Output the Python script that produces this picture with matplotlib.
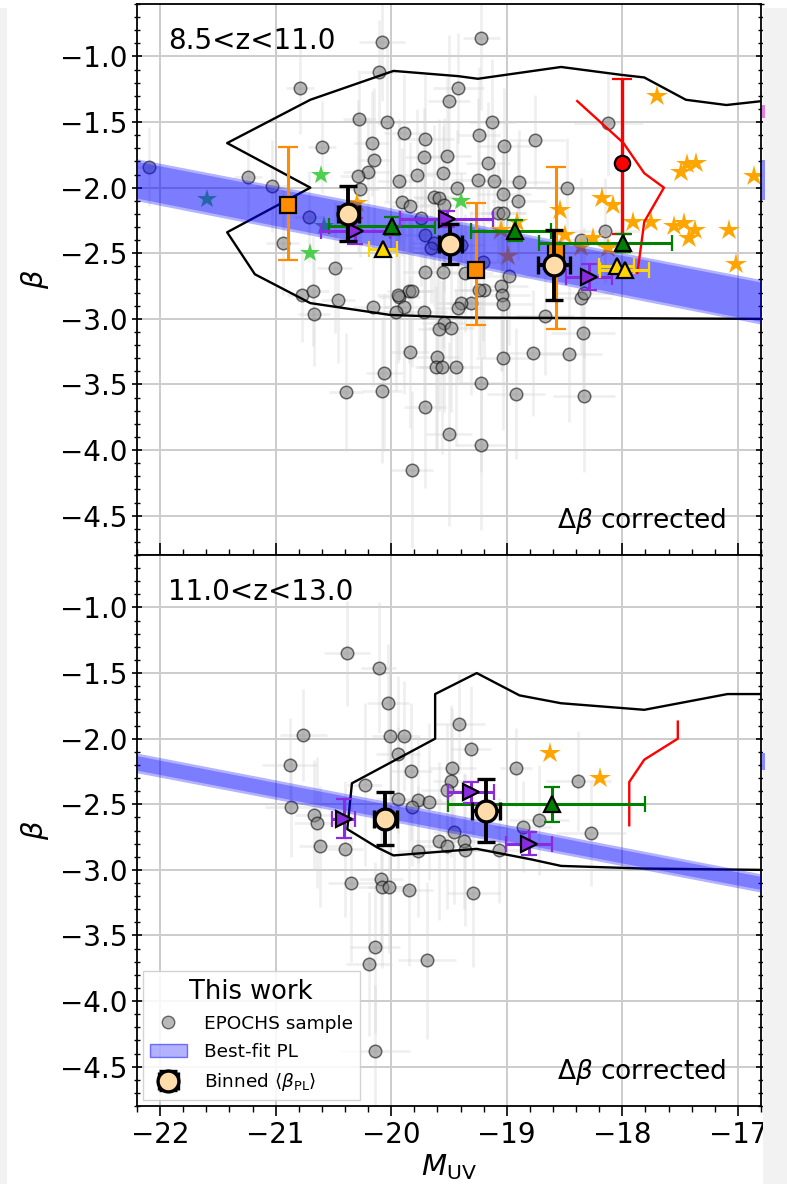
import matplotlib
matplotlib.use("Agg")
import matplotlib.pyplot as plt
from matplotlib.ticker import MultipleLocator
from matplotlib.patches import Patch, Rectangle
from matplotlib.lines import Line2D

plt.rcParams['font.family'] = ['DejaVu Sans']
plt.rcParams['mathtext.fontset'] = 'dejavusans'

# ---- data: 8.5 < z < 11.0 ----
m_top = [-20.08, -20.11, -20.79, -19.50, -19.42, -19.22, -20.28, -20.04, -19.89, -19.71,
         -20.17, -20.60, -19.13, -19.24, -19.02, -19.72, -19.52, -19.16, -20.15, -20.20,
         -19.78, -19.55, -19.25, -19.11, -18.89, -20.29, -21.24, -21.03, -19.93, -20.27,
         -19.43, -19.03, -19.63, -19.59, -19.91, -19.84, -19.54, -19.08, -19.03, -19.74,
         -20.71, -22.10, -20.94, -19.71, -19.63, -20.49, -19.71, -19.55, -19.36, -18.98,
         -19.21, -19.66, -19.40, -18.48, -18.15, -18.36, -19.05, -19.04, -19.20, -19.93,
         -19.85, -19.31, -19.40, -19.03, -18.36, -18.33, -20.77, -20.68, -20.46, -20.16,
         -19.94, -19.82, -19.89, -19.96, -19.72, -19.42, -19.24, -20.67, -19.54, -19.59,
         -19.48, -18.67, -18.34, -19.84, -19.60, -19.61, -19.56, -19.44, -19.03, -18.77,
         -18.46, -20.06, -20.39, -20.08, -19.22, -18.92, -18.33, -19.71, -19.50, -19.22,
         -19.82, -18.76, -18.12, -18.90]
b_top = [-0.89, -1.12, -1.24, -1.34, -1.24, -0.86, -1.48, -1.50, -1.58, -1.63,
         -1.66, -1.69, -1.50, -1.60, -1.68, -1.77, -1.76, -1.81, -1.79, -1.88,
         -1.90, -1.89, -1.94, -1.95, -1.96, -1.91, -1.92, -1.99, -1.95, -2.01,
         -2.00, -2.05, -2.07, -2.08, -2.11, -2.14, -2.13, -2.19, -2.19, -2.23,
         -2.22, -1.84, -2.42, -2.36, -2.42, -2.61, -2.64, -2.64, -2.65, -2.67,
         -2.57, -2.46, -2.44, -2.00, -2.33, -2.40, -2.75, -2.82, -2.78, -2.83,
         -2.79, -2.88, -2.88, -2.89, -2.84, -2.80, -2.82, -2.79, -2.86, -2.91,
         -2.82, -2.79, -2.91, -2.95, -2.95, -2.92, -2.78, -2.96, -3.03, -3.08,
         -3.07, -2.98, -3.11, -3.25, -3.29, -3.37, -3.37, -3.37, -3.30, -3.26,
         -3.27, -3.41, -3.56, -3.55, -3.49, -3.57, -3.59, -3.67, -3.88, -3.96,
         -4.15, -1.64, -1.51, -2.10]
berr_top = [0.45, 0.40, 0.35, 0.50, 0.42, 0.55, 0.38, 0.60, 0.45, 0.50,
            0.40, 0.35, 0.48, 0.52, 0.44, 0.38, 0.60, 0.46, 0.55, 0.42,
            0.50, 0.36, 0.62, 0.45, 0.40, 0.58, 0.30, 0.35, 0.47, 0.52,
            0.44, 0.38, 0.55, 0.60, 0.41, 0.49, 0.66, 0.37, 0.45, 0.52,
            0.35, 0.30, 0.40, 0.56, 0.48, 0.50, 0.62, 0.58, 0.45, 0.53,
            0.60, 0.42, 0.55, 0.38, 0.40, 0.47, 0.65, 0.58, 0.52, 0.48,
            0.55, 0.70, 0.62, 0.45, 0.43, 0.50, 0.36, 0.42, 0.48, 0.60,
            0.52, 0.58, 0.66, 0.60, 0.72, 0.55, 0.50, 0.40, 0.68, 0.62,
            0.64, 0.45, 0.50, 0.58, 0.70, 0.62, 0.66, 0.60, 0.55, 0.48,
            0.52, 0.60, 0.45, 0.55, 0.68, 0.50, 0.58, 0.62, 0.70, 0.65,
            0.60, 0.35, 0.40, 0.45]
merr_top = [0.20, 0.15, 0.12, 0.18, 0.22, 0.16, 0.14, 0.20, 0.17, 0.25,
            0.15, 0.12, 0.20, 0.18, 0.24, 0.16, 0.21, 0.19, 0.14, 0.22,
            0.17, 0.20, 0.23, 0.18, 0.26, 0.15, 0.12, 0.14, 0.19, 0.16,
            0.21, 0.24, 0.18, 0.20, 0.15, 0.17, 0.22, 0.25, 0.19, 0.18,
            0.13, 0.12, 0.14, 0.18, 0.20, 0.15, 0.19, 0.22, 0.24, 0.26,
            0.21, 0.17, 0.20, 0.27, 0.30, 0.25, 0.23, 0.24, 0.21, 0.18,
            0.19, 0.22, 0.20, 0.25, 0.27, 0.26, 0.13, 0.14, 0.15, 0.17,
            0.18, 0.19, 0.17, 0.16, 0.20, 0.21, 0.22, 0.14, 0.19, 0.18,
            0.20, 0.25, 0.28, 0.17, 0.19, 0.18, 0.20, 0.21, 0.24, 0.26,
            0.28, 0.16, 0.15, 0.17, 0.22, 0.25, 0.27, 0.18, 0.20, 0.22,
            0.18, 0.26, 0.30, 0.24]

# ---- data: 11.0 < z < 13.0 ----
m_bot = [-20.38, -20.11, -20.03, -20.76, -20.01, -19.89, -19.41, -19.94, -19.31, -20.88,
         -18.92, -19.83, -19.47, -19.48, -19.52, -20.23, -19.94, -19.77, -19.67, -19.82,
         -20.87, -20.67, -20.64, -18.86, -19.46, -19.59, -19.52, -19.37, -19.36, -19.07,
         -19.77, -20.62, -20.40, -20.35, -20.09, -20.08, -20.02, -19.85, -19.29, -18.38,
         -18.72, -18.27, -20.14, -20.19, -19.69, -20.14]
b_bot = [-1.35, -1.46, -1.73, -1.97, -1.98, -1.98, -1.89, -2.12, -2.08, -2.20,
         -2.22, -2.25, -2.22, -2.32, -2.39, -2.35, -2.46, -2.47, -2.48, -2.52,
         -2.52, -2.58, -2.64, -2.67, -2.71, -2.78, -2.82, -2.78, -2.85, -2.85,
         -2.86, -2.82, -2.84, -3.10, -3.07, -3.13, -3.13, -3.15, -3.18, -2.32,
         -2.62, -2.72, -3.59, -3.72, -3.69, -4.38]
berr_bot = [0.40, 0.50, 0.45, 0.35, 0.55, 0.42, 0.38, 0.60, 0.48, 0.36,
            0.30, 0.52, 0.45, 0.58, 0.50, 0.62, 0.55, 0.48, 0.60, 0.45,
            0.38, 0.42, 0.50, 0.35, 0.55, 0.60, 0.48, 0.52, 0.58, 0.40,
            0.50, 0.46, 0.52, 0.60, 0.55, 0.62, 0.50, 0.58, 0.56, 0.38,
            0.42, 0.40, 0.65, 0.55, 0.60, 0.50]
merr_bot = [0.20, 0.15, 0.18, 0.20, 0.16, 0.14, 0.22, 0.19, 0.17, 0.24,
            0.14, 0.18, 0.20, 0.16, 0.22, 0.15, 0.19, 0.21, 0.17, 0.18,
            0.22, 0.16, 0.20, 0.25, 0.18, 0.20, 0.21, 0.19, 0.23, 0.22,
            0.17, 0.18, 0.16, 0.20, 0.19, 0.22, 0.18, 0.21, 0.23, 0.28,
            0.26, 0.30, 0.22, 0.20, 0.25, 0.30]

# best-fit power law band (edges at the plot limits)
m_fit = [-22.2, -16.8]
fit_top_hi = [-1.78, -2.70]
fit_top_lo = [-2.10, -3.04]
fit_bot_hi = [-2.11, -3.03]
fit_bot_lo = [-2.26, -3.17]

# binned <beta_PL>
bin_top_m = [-20.37, -19.49, -18.59]
bin_top_b = [-2.20, -2.43, -2.59]
bin_top_merr = [0.09, 0.10, 0.14]
bin_top_berr = [0.21, 0.15, 0.27]
bin_bot_m = [-20.05, -19.18]
bin_bot_b = [-2.61, -2.55]
bin_bot_merr = [0.10, 0.12]
bin_bot_berr = [0.20, 0.24]

# literature comparisons
cont_top_m = [-16.79, -17.10, -17.45, -17.81, -18.01, -18.53, -19.25, -19.42, -19.98,
              -20.70, -21.42, -20.70, -21.42, -21.18, -20.70, -20.01, -19.37, -16.79]
cont_top_b = [-1.34, -1.37, -1.33, -1.16, -1.14, -1.08, -1.17, -1.15, -1.11,
              -1.33, -1.66, -2.00, -2.34, -2.66, -2.88, -2.97, -2.99, -3.00]
cont_bot_m = [-16.81, -17.09, -17.81, -18.53, -18.89, -19.26, -19.62, -19.62, -20.34,
              -20.38, -20.12, -19.98, -19.26, -18.79, -18.53, -17.81, -16.81]
cont_bot_b = [-1.66, -1.66, -1.78, -1.73, -1.67, -1.50, -1.66, -2.00, -2.34,
              -2.69, -2.83, -2.89, -2.84, -2.92, -2.97, -2.99, -3.00]

red_top_m = [-18.39, -17.99, -17.81, -17.64, -17.81, -17.87]
red_top_b = [-1.34, -1.66, -1.89, -2.00, -2.26, -2.65]
red_bot_m = [-17.52, -17.52, -17.81, -17.94, -17.94]
red_bot_b = [-1.87, -2.00, -2.16, -2.33, -2.66]

red_pt_m = [-18.00]
red_pt_b = [-1.81]
red_pt_lo = [0.54]
red_pt_hi = [0.64]

sq_m = [-20.89, -19.27, -18.57]
sq_b = [-2.13, -2.63, -2.49]
sq_lo = [0.42, 0.42, 0.59]
sq_hi = [0.44, 0.51, 0.65]

gold_m = [-20.07, -18.05, -17.98]
gold_b = [-2.47, -2.60, -2.63]
gold_merr = [0.12, 0.15, 0.21]

grn_top_m = [-19.99, -18.93, -17.99]
grn_top_b = [-2.29, -2.33, -2.42]
grn_top_mlo = [0.55, 0.38, 0.73]
grn_top_mhi = [0.37, 0.31, 0.42]
grn_top_berr = [0.07, 0.08, 0.07]
grn_bot_m = [-18.61]
grn_bot_b = [-2.50]
grn_bot_mlo = [0.90]
grn_bot_mhi = [0.81]
grn_bot_berr = [0.135]

pur_top_m = [-20.31, -19.52, -18.29]
pur_top_b = [-2.33, -2.24, -2.68]
pur_top_merr = [0.30, 0.40, 0.20]
pur_top_berr = [0.10, 0.06, 0.10]
pur_bot_m = [-20.41, -19.31, -18.81]
pur_bot_b = [-2.61, -2.41, -2.80]
pur_bot_merr = [0.10, 0.20, 0.20]
pur_bot_berr = [0.15, 0.08, 0.085]

ostar_top_m = [-17.70, -17.49, -17.44, -17.36, -16.86, -18.18, -18.08, -18.54, -17.91, -17.75,
               -17.47, -17.37, -17.42, -17.08, -17.02, -18.50, -18.25, -18.36, -18.12, -19.05,
               -18.91, -17.55, -18.99, -20.30]
ostar_top_b = [-1.30, -1.88, -1.82, -1.81, -1.91, -2.08, -2.13, -2.17, -2.26, -2.26,
               -2.27, -2.32, -2.38, -2.32, -2.58, -2.36, -2.38, -2.45, -2.46, -2.32,
               -2.26, -2.29, -2.52, -2.12]
ostar_bot_m = [-18.63, -18.19]
ostar_bot_b = [-2.11, -2.30]
gstar_m = [-21.59, -20.70, -20.61, -19.40, -20.58]
gstar_b = [-2.09, -2.50, -1.90, -2.10, -2.29]

W, H = 787, 1184
fig = plt.figure(figsize=(W / 100, H / 100), dpi=100)
gs = fig.add_gridspec(2, 1, left=137 / W, right=761 / W, top=1 - 4 / H,
                      bottom=1 - 1106 / H, hspace=0)
ax1 = fig.add_subplot(gs[0])
ax2 = fig.add_subplot(gs[1], sharex=ax1)

FS = 20


def sample(ax, m, b, merr, berr):
    ax.errorbar(m, b, xerr=merr, yerr=berr, fmt='none', ecolor='lightgray',
                elinewidth=2, alpha=0.35, zorder=1)
    ax.plot(m, b, 'o', ms=9, mfc='grey', mec='k', mew=1.1, alpha=0.55,
            ls='none', zorder=2)


def band(ax, hi, lo):
    ax.fill_between(m_fit, lo, hi, color='blue', alpha=0.3, lw=0, zorder=3)
    ax.fill_between(m_fit, [v + 0.02 for v in lo], [v - 0.02 for v in hi],
                    color='blue', alpha=0.3, lw=0, zorder=3)


def binned(ax, m, b, merr, berr):
    return ax.errorbar(m, b, xerr=merr, yerr=berr, fmt='o', ms=15,
                       mfc='#ffdcaa', mec='k', mew=2.4, ecolor='k',
                       elinewidth=2.8, capsize=6.5, capthick=2.8, zorder=10)


# top panel
sample(ax1, m_top, b_top, merr_top, berr_top)
ax1.plot(cont_top_m, cont_top_b, color='k', lw=1.7, zorder=2)
ax1.plot(ostar_top_m, ostar_top_b, '*', ms=16, color='orange', mew=0, ls='none', zorder=2)
ax1.plot(gstar_m, gstar_b, '*', ms=15, color='#3ccc3c', mew=0, alpha=0.9, ls='none', zorder=2)
band(ax1, fit_top_hi, fit_top_lo)
ax1.plot(red_top_m, red_top_b, color='red', lw=1.7, zorder=4)
ax1.errorbar(sq_m, sq_b, yerr=[sq_lo, sq_hi], fmt='s', ms=11, mfc='darkorange',
             mec='k', mew=1.6, ecolor='darkorange', elinewidth=2.2, capsize=7,
             capthick=2.2, zorder=5)
ax1.errorbar(red_pt_m, red_pt_b, yerr=[red_pt_lo, red_pt_hi], fmt='o', ms=11,
             mfc='red', mec='k', mew=1.6, ecolor='red', elinewidth=2.4, capsize=7,
             capthick=2.4, zorder=5)
ax1.errorbar(grn_top_m, grn_top_b, xerr=[grn_top_mlo, grn_top_mhi], yerr=grn_top_berr,
             fmt='^', ms=12, mfc='green', mec='k', mew=1.6, ecolor='green',
             elinewidth=2.2, capsize=6, capthick=2.2, zorder=6)
ax1.errorbar(pur_top_m, pur_top_b, xerr=pur_top_merr, yerr=pur_top_berr, fmt='>',
             ms=12, mfc='blueviolet', mec='k', mew=1.6, ecolor='blueviolet',
             elinewidth=2.2, capsize=6, capthick=2.2, zorder=6)
ax1.errorbar(gold_m, gold_b, xerr=gold_merr, fmt='^', ms=12, mfc='gold', mec='k',
             mew=1.6, ecolor='gold', elinewidth=2.2, capsize=6, capthick=2.2, zorder=7)
binned(ax1, bin_top_m, bin_top_b, bin_top_merr, bin_top_berr)

# bottom panel
sample(ax2, m_bot, b_bot, merr_bot, berr_bot)
ax2.plot(cont_bot_m, cont_bot_b, color='k', lw=1.7, zorder=2)
ax2.plot(ostar_bot_m, ostar_bot_b, '*', ms=16, color='orange', mew=0, ls='none', zorder=2)
band(ax2, fit_bot_hi, fit_bot_lo)
ax2.plot(red_bot_m, red_bot_b, color='red', lw=1.7, zorder=4)
ax2.errorbar(grn_bot_m, grn_bot_b, xerr=[grn_bot_mlo, grn_bot_mhi], yerr=grn_bot_berr,
             fmt='^', ms=12, mfc='green', mec='k', mew=1.6, ecolor='green',
             elinewidth=2.2, capsize=6, capthick=2.2, zorder=6)
ax2.errorbar(pur_bot_m, pur_bot_b, xerr=pur_bot_merr, yerr=pur_bot_berr, fmt='>',
             ms=12, mfc='blueviolet', mec='k', mew=1.6, ecolor='blueviolet',
             elinewidth=2.2, capsize=6, capthick=2.2, zorder=6)
bh = binned(ax2, bin_bot_m, bin_bot_b, bin_bot_merr, bin_bot_berr)

for ax, lab in [(ax1, '8.5<z<11.0'), (ax2, '11.0<z<13.0')]:
    ax.set_xlim(-22.2, -16.8)
    ax.set_ylim(-4.8, -0.6)
    ax.xaxis.set_major_locator(MultipleLocator(1))
    ax.xaxis.set_minor_locator(MultipleLocator(0.2))
    ax.yaxis.set_major_locator(MultipleLocator(0.5))
    ax.yaxis.set_minor_locator(MultipleLocator(0.1))
    ax.grid(True, which='major', color='0.8', lw=1.4, zorder=0)
    ax.set_axisbelow(True)
    ax.tick_params(axis='y', which='both', direction='inout', left=True, right=True,
                   labelsize=FS)
    ax.tick_params(axis='y', which='major', length=7, width=1.2)
    ax.tick_params(axis='y', which='minor', length=5, width=1)
    ax.set_ylabel(r'$\beta$', fontsize=21, labelpad=6)
    ax.text(0.05, 0.958, lab, transform=ax.transAxes, fontsize=FS, va='top', ha='left')
    ax.text(0.945, 0.035, r'$\Delta\beta$ corrected', transform=ax.transAxes,
            fontsize=19, va='bottom', ha='right')
    for s in ax.spines.values():
        s.set_linewidth(1.3)

ax1.tick_params(axis='x', which='both', direction='in', labelbottom=False)
ax1.tick_params(axis='x', which='major', length=8.5, width=1.2)
ax1.tick_params(axis='x', which='minor', length=4, width=1)
ax2.tick_params(axis='x', which='both', direction='out', labelsize=FS)
ax2.tick_params(axis='x', which='major', length=7.5, width=1.2)
ax2.tick_params(axis='x', which='minor', length=4.5, width=1)
ax2.set_xlabel(r'$M_{\rm UV}$', fontsize=21, labelpad=2)

h_samp = Line2D([], [], marker='o', ls='none', ms=9, mfc='grey', mec='k', alpha=0.55)
h_fit = Patch(facecolor=(0, 0, 1, 0.3), edgecolor=(0, 0, 1, 0.5))
leg = ax2.legend([h_samp, h_fit, bh],
                 ['EPOCHS sample', 'Best-fit PL', r'Binned $\langle\beta_{\rm PL}\rangle$'],
                 loc='lower left', fontsize=13.3, title='This work', title_fontsize=18.5,
                 fancybox=False, edgecolor='0.8', framealpha=0.85, borderaxespad=0.3,
                 handletextpad=0.9, labelspacing=0.55)
leg.set_zorder(20)

# page background strips seen at the image edges
fig.add_artist(Rectangle((0, 0), 7 / W, 1 - 8 / H, transform=fig.transFigure,
                         color='#f2f2f2', lw=0, zorder=30))
fig.add_artist(Rectangle((763 / W, 0), 24 / W, 1 - 8 / H, transform=fig.transFigure,
                         color='#f2f2f2', lw=0, zorder=30))
# slivers of an off-axes legend cut at the right edge
for y0, y1, c in [(105, 118, '#e080e0'), (160, 200, '#8a8aff'), (753, 770, '#8a8aff')]:
    fig.add_artist(Rectangle((762 / W, 1 - y1 / H), 3 / W, (y1 - y0) / H,
                             transform=fig.transFigure, color=c, lw=0, zorder=31))

fig.savefig('out.png', dpi=100)
